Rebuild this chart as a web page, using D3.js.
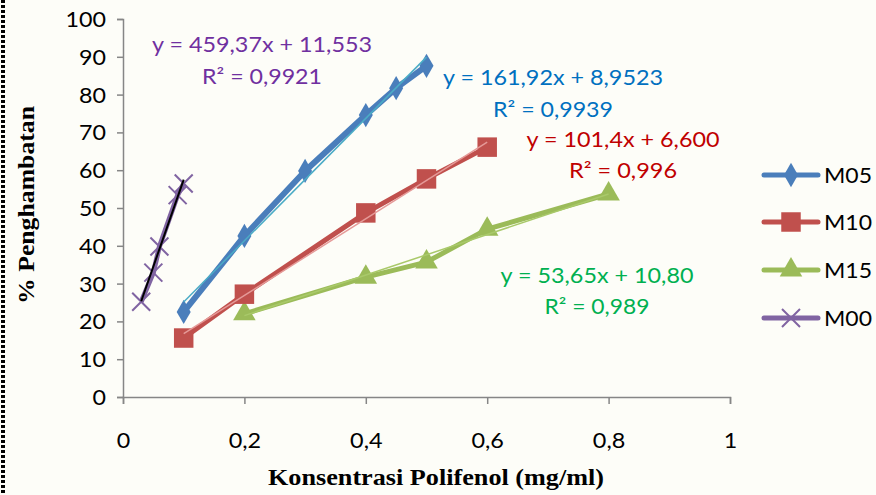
<!DOCTYPE html>
<html><head><meta charset="utf-8">
<script src="https://cdn.jsdelivr.net/npm/d3@7"></script>
<style>body{margin:0;background:#fdfdf8;}svg{display:block;}</style>
</head><body><svg id="c" width="876" height="495"></svg>
<script>
const xTicks=[0,0.2,0.4,0.6,0.8,1];
const xTickLabels=["0","0,2","0,4","0,6","0,8","1"];
const yTicks=[0,10,20,30,40,50,60,70,80,90,100];
const seriesNames=["M05","M10","M15","M00"];
const m05X=[0.1,0.2,0.3,0.4,0.45,0.5];
const m05Y=[22.5,42.6,59.8,74.6,81.7,87.6];
const m10X=[0.1,0.2,0.4,0.5,0.6];
const m10Y=[15.6,27.2,48.7,57.7,66.1];
const m15X=[0.2,0.4,0.5,0.6,0.8];
const m15Y=[22.0,31.7,35.7,44.4,53.7];
const m00X=[0.03,0.05,0.06,0.09,0.1];
const m00Y=[25.2,32.9,39.8,53.4,56.5];
const slopes=[161.92,101.4,53.65,459.37];
const intercepts=[8.9523,6.600,10.80,11.553];
const eqTexts=["y = 161,92x + 8,9523","y = 101,4x + 6,600","y = 53,65x + 10,80","y = 459,37x + 11,553"];
const r2Texts=["R² = 0,9939","R² = 0,996","R² = 0,989","R² = 0,9921"];

const colors=["#4a7ebb","#c0504d","#9bbb59","#8064a2"];
const trendColors=["#4bacc6","#e59a98","#a9c96a","#000000"];
const textColors=["#0070c0","#c00000","#00b050","#7030a0"];
const shapes=["diamond","square","triangle","cross"];
const FONT="Lato, 'Open Sans', sans-serif";

const svg=d3.select("#c");
svg.append("line").attr("x1",3).attr("x2",3).attr("y1",0).attr("y2",495)
  .attr("stroke","#000").attr("stroke-width",4).attr("stroke-dasharray","3,2");

const x=d3.scaleLinear().domain([0,1]).range([123,730]);
const y=d3.scaleLinear().domain([0,100]).range([397,19]);

function labelLen(s){let w=0;for(const c of s){w+= (c===",")?5.5:13.5;}return w;}

const yAxis=svg.append("g").attr("transform","translate(123,0)")
  .call(d3.axisLeft(y).tickValues(yTicks).tickSize(6).tickPadding(11));
const xAxis=svg.append("g").attr("transform","translate(0,397)")
  .call(d3.axisBottom(x).tickValues(xTicks).tickFormat((d,i)=>xTickLabels[i]).tickSize(7).tickPadding(29));
[yAxis,xAxis].forEach(g=>{
  g.selectAll("path,line").attr("stroke","#868686").attr("stroke-width",1.5);
  g.selectAll("text").attr("font-family",FONT).attr("font-size",21).attr("fill","#000")
    .each(function(){const t=d3.select(this);t.attr("textLength",labelLen(t.text())).attr("lengthAdjust","spacingAndGlyphs");});
});
yAxis.selectAll("text").attr("dy","0.36em");

svg.append("text").attr("x",436).attr("y",485).attr("text-anchor","middle")
  .attr("font-family","'Liberation Serif', serif").attr("font-weight","bold").attr("font-size",24)
  .attr("textLength",336).attr("lengthAdjust","spacingAndGlyphs")
  .text("Konsentrasi Polifenol (mg/ml)");
svg.append("text").attr("transform","translate(34,205) rotate(-90)").attr("text-anchor","middle")
  .attr("font-family","'Liberation Serif', serif").attr("font-weight","bold").attr("font-size",24)
  .attr("textLength",198).attr("lengthAdjust","spacingAndGlyphs")
  .text("% Penghambatan");

const data=[[m05X,m05Y],[m10X,m10Y],[m15X,m15Y],[m00X,m00Y]];
const symbolFor={diamond:d3.symbolDiamond,square:d3.symbolSquare,triangle:d3.symbolTriangle};
const sizes={diamond:170,square:380,triangle:220};
function drawMarker(g,shape,cx,cy,color){
  if(shape==="cross"){
    const r=9;
    g.append("path").attr("d",`M${cx-r},${cy-r}L${cx+r},${cy+r}M${cx-r},${cy+r}L${cx+r},${cy-r}`)
      .attr("stroke",color).attr("stroke-width",2).attr("fill","none");
  } else {
    g.append("path").attr("d",d3.symbol().type(symbolFor[shape]).size(sizes[shape])())
      .attr("transform",`translate(${cx},${cy})`).attr("fill",color);
  }
}
const line=d3.line();
[3,2,1,0].forEach(i=>{
  const [xs,ys]=data[i];
  const pts=xs.map((v,k)=>[x(v),y(ys[k])]);
  const g=svg.append("g");
  g.append("path").attr("d",line(pts)).attr("fill","none").attr("stroke",colors[i])
    .attr("stroke-width",i===0?6:5).attr("stroke-linejoin","round");
  pts.forEach(p=>drawMarker(g,shapes[i],p[0],p[1],colors[i]));
  const x0=d3.min(xs),x1=d3.max(xs);
  g.append("line").attr("x1",x(x0)).attr("y1",y(slopes[i]*x0+intercepts[i]))
    .attr("x2",x(x1)).attr("y2",y(slopes[i]*x1+intercepts[i]))
    .attr("stroke",trendColors[i]).attr("stroke-width",i===3?2:1.5);
});

const eqPos=[[553,85,117],[623,147,178],[597,283,314],[262,52,84]];
const eqLen=[[220,120],[193,108],[193,105],[220,120]];
eqPos.forEach((p,i)=>{
  [eqTexts[i],r2Texts[i]].forEach((t,k)=>{
    svg.append("text").attr("x",p[0]).attr("y",p[1+k]).attr("text-anchor","middle")
      .attr("font-family",FONT).attr("font-size",21)
      .attr("textLength",eqLen[i][k]).attr("lengthAdjust","spacingAndGlyphs")
      .attr("fill",textColors[i]).text(t);
  });
});

const legY=[175,222,270,318];
seriesNames.forEach((n,i)=>{
  const g=svg.append("g");
  g.append("line").attr("x1",764).attr("x2",818).attr("y1",legY[i]).attr("y2",legY[i])
    .attr("stroke",colors[i]).attr("stroke-width",5).attr("stroke-linecap","round");
  drawMarker(g,shapes[i],791,legY[i],colors[i]);
  g.append("text").attr("x",824).attr("y",legY[i]).attr("dy","0.36em")
    .attr("font-family",FONT).attr("font-size",22).attr("fill","#000")
    .attr("textLength",48).attr("lengthAdjust","spacingAndGlyphs").text(n);
});
</script></body></html>
